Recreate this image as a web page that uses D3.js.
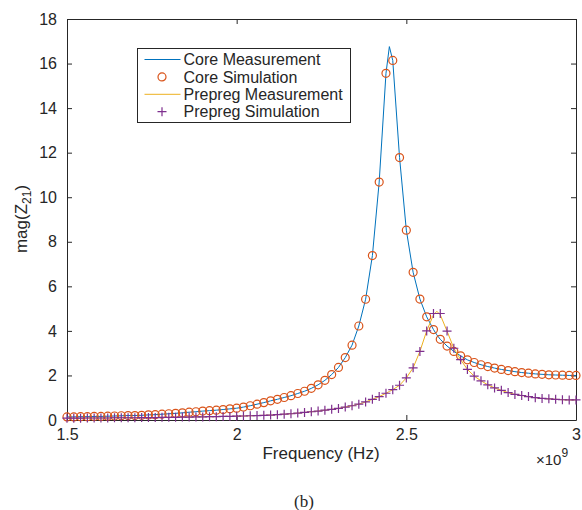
<!DOCTYPE html>
<html>
<head>
<meta charset="utf-8">
<script src="https://cdn.jsdelivr.net/npm/d3@7"></script>
<style>
  body { margin: 0; background: #fff; }
  text { font-family: "Liberation Sans", Arial, sans-serif; fill: #262626; }
</style>
</head>
<body>
<svg id="chart"></svg>
<script>
// simulation grid (GHz)
const freq = [1.50, 1.52, 1.54, 1.56, 1.58, 1.60, 1.62, 1.64, 1.66, 1.68,
  1.70, 1.72, 1.74, 1.76, 1.78, 1.80, 1.82, 1.84, 1.86, 1.88,
  1.90, 1.92, 1.94, 1.96, 1.98, 2.00, 2.02, 2.04, 2.06, 2.08,
  2.10, 2.12, 2.14, 2.16, 2.18, 2.20, 2.22, 2.24, 2.26, 2.28,
  2.30, 2.32, 2.34, 2.36, 2.38, 2.40, 2.42, 2.44, 2.46, 2.48,
  2.50, 2.52, 2.54, 2.56, 2.58, 2.60, 2.62, 2.64, 2.66, 2.68,
  2.70, 2.72, 2.74, 2.76, 2.78, 2.80, 2.82, 2.84, 2.86, 2.88,
  2.90, 2.92, 2.94, 2.96, 2.98, 3.00];

const coreSim = [0.14, 0.14, 0.15, 0.15, 0.16, 0.16, 0.17, 0.18, 0.19, 0.20,
  0.20, 0.21, 0.23, 0.24, 0.26, 0.28, 0.30, 0.32, 0.35, 0.37,
  0.40, 0.42, 0.44, 0.47, 0.50, 0.53, 0.58, 0.64, 0.71, 0.78,
  0.86, 0.93, 1.01, 1.09, 1.19, 1.29, 1.42, 1.58, 1.78, 2.04,
  2.36, 2.80, 3.36, 4.22, 5.42, 7.38, 10.68, 15.56, 16.14, 11.78,
  8.52, 6.63, 5.43, 4.63, 4.06, 3.62, 3.32, 3.08, 2.88, 2.70,
  2.58, 2.48, 2.40, 2.33, 2.27, 2.22, 2.17, 2.13, 2.10, 2.07,
  2.05, 2.03, 2.02, 2.01, 2.00, 2.00];

const prepregSim = [0.08, 0.08, 0.08, 0.09, 0.09, 0.09, 0.09, 0.10, 0.10, 0.10,
  0.10, 0.11, 0.11, 0.11, 0.12, 0.12, 0.12, 0.13, 0.13, 0.14,
  0.14, 0.15, 0.15, 0.16, 0.16, 0.17, 0.18, 0.19, 0.20, 0.21,
  0.22, 0.24, 0.26, 0.28, 0.31, 0.34, 0.37, 0.40, 0.44, 0.48,
  0.52, 0.58, 0.64, 0.71, 0.81, 0.93, 1.05, 1.20, 1.36, 1.56,
  1.89, 2.34, 3.08, 4.00, 4.78, 4.78, 3.99, 3.22, 2.71, 2.27,
  1.97, 1.76, 1.58, 1.44, 1.33, 1.23, 1.15, 1.10, 1.05, 1.00,
  0.97, 0.95, 0.93, 0.91, 0.90, 0.90];

// measurement grid: simulation grid plus the two resonance peaks
const measFreq = [1.50, 1.52, 1.54, 1.56, 1.58, 1.60, 1.62, 1.64, 1.66, 1.68,
  1.70, 1.72, 1.74, 1.76, 1.78, 1.80, 1.82, 1.84, 1.86, 1.88,
  1.90, 1.92, 1.94, 1.96, 1.98, 2.00, 2.02, 2.04, 2.06, 2.08,
  2.10, 2.12, 2.14, 2.16, 2.18, 2.20, 2.22, 2.24, 2.26, 2.28,
  2.30, 2.32, 2.34, 2.36, 2.38, 2.40, 2.42, 2.44, 2.45, 2.46, 2.48,
  2.50, 2.52, 2.54, 2.56, 2.58, 2.59, 2.60, 2.62, 2.64, 2.66, 2.68,
  2.70, 2.72, 2.74, 2.76, 2.78, 2.80, 2.82, 2.84, 2.86, 2.88,
  2.90, 2.92, 2.94, 2.96, 2.98, 3.00];

const coreMeas = [0.14, 0.14, 0.15, 0.15, 0.16, 0.16, 0.17, 0.18, 0.19, 0.20,
  0.20, 0.21, 0.23, 0.24, 0.26, 0.28, 0.30, 0.32, 0.35, 0.37,
  0.40, 0.42, 0.44, 0.47, 0.50, 0.53, 0.58, 0.64, 0.71, 0.78,
  0.86, 0.93, 1.01, 1.09, 1.19, 1.29, 1.42, 1.58, 1.78, 2.04,
  2.36, 2.80, 3.36, 4.22, 5.42, 7.38, 10.68, 15.56, 16.76, 16.14, 11.78,
  8.52, 6.63, 5.43, 4.63, 4.06, 3.82, 3.62, 3.32, 3.08, 2.88, 2.70,
  2.58, 2.48, 2.40, 2.33, 2.27, 2.22, 2.17, 2.13, 2.10, 2.07,
  2.05, 2.03, 2.02, 2.01, 2.00, 2.00];

const prepregMeas = [0.08, 0.08, 0.08, 0.09, 0.09, 0.09, 0.09, 0.10, 0.10, 0.10,
  0.10, 0.11, 0.11, 0.11, 0.12, 0.12, 0.12, 0.13, 0.13, 0.14,
  0.14, 0.15, 0.15, 0.16, 0.16, 0.17, 0.18, 0.19, 0.20, 0.21,
  0.22, 0.24, 0.26, 0.28, 0.31, 0.34, 0.37, 0.40, 0.44, 0.48,
  0.52, 0.58, 0.64, 0.71, 0.81, 0.93, 1.05, 1.20, 1.28, 1.36, 1.56,
  1.89, 2.34, 3.08, 4.00, 4.72, 4.88, 4.72, 3.99, 3.22, 2.71, 2.27,
  1.97, 1.76, 1.58, 1.44, 1.33, 1.23, 1.15, 1.10, 1.05, 1.00,
  0.97, 0.95, 0.93, 0.91, 0.90, 0.90];

const xTicks = [1.5, 2, 2.5, 3];
const yTicks = [0, 2, 4, 6, 8, 10, 12, 14, 16, 18];
const legendLabels = ["Core Measurement", "Core Simulation", "Prepreg Measurement", "Prepreg Simulation"];

const colors = { blue: "#0072BD", orange: "#D95319", yellow: "#EDB120", purple: "#7E2F8E" };
const axisColor = "#262626";

const margin = { top: 19, right: 6, bottom: 90, left: 67 };
const W = 582, H = 510;
const width = W - margin.left - margin.right;   // 509
const height = H - margin.top - margin.bottom;  // 401

const svg = d3.select("#chart").attr("width", W).attr("height", H);
const g = svg.append("g").attr("transform", `translate(${margin.left},${margin.top})`);

const x = d3.scaleLinear().domain([1.5, 3]).range([0, width]);
const y = d3.scaleLinear().domain([0, 18]).range([height, 0]);

// axes: ticks point inward, box on all sides
const fmt = (d) => d3.format("")(d);
g.append("g").attr("transform", `translate(0,${height})`)
  .call(d3.axisBottom(x).tickValues(xTicks).tickFormat(fmt).tickSizeInner(-5).tickSizeOuter(0).tickPadding(9));
g.append("g").call(d3.axisTop(x).tickValues(xTicks).tickFormat("").tickSizeInner(-5).tickSizeOuter(0));
g.append("g")
  .call(d3.axisLeft(y).tickValues(yTicks).tickSizeInner(-5).tickSizeOuter(0).tickPadding(10));
g.append("g").attr("transform", `translate(${width},0)`)
  .call(d3.axisRight(y).tickValues(yTicks).tickFormat("").tickSizeInner(-5).tickSizeOuter(0));

g.selectAll(".domain").attr("stroke", axisColor).attr("stroke-width", 1);
g.selectAll(".tick line").attr("stroke", axisColor);
g.selectAll(".tick text").style("font-size", "16px").attr("fill", axisColor);

const clip = g.append("g");

const line = d3.line().x((d) => x(d[0])).y((d) => y(d[1]));
const coreMeasPts = measFreq.map((f, i) => [f, coreMeas[i]]);
const prepregMeasPts = measFreq.map((f, i) => [f, prepregMeas[i]]);
const coreSimPts = freq.map((f, i) => [f, coreSim[i]]);
const prepregSimPts = freq.map((f, i) => [f, prepregSim[i]]);

clip.append("path").datum(coreMeasPts).attr("d", line)
  .attr("fill", "none").attr("stroke", colors.blue).attr("stroke-width", 1);

clip.selectAll(".csim").data(coreSimPts).join("circle").attr("class", "csim")
  .attr("cx", (d) => x(d[0])).attr("cy", (d) => y(d[1])).attr("r", 4)
  .attr("fill", "none").attr("stroke", colors.orange).attr("stroke-width", 1.2);

clip.append("path").datum(prepregMeasPts).attr("d", line)
  .attr("fill", "none").attr("stroke", colors.yellow).attr("stroke-width", 1);

const plus = "M-4.5,0H4.5M0,-4.5V4.5";
clip.selectAll(".psim").data(prepregSimPts).join("path").attr("class", "psim")
  .attr("transform", (d) => `translate(${x(d[0])},${y(d[1])})`)
  .attr("d", plus).attr("stroke", colors.purple).attr("stroke-width", 1.2).attr("fill", "none");

// labels
svg.append("text").attr("x", 321).attr("y", 459).attr("text-anchor", "middle")
  .style("font-size", "17px").text("Frequency (Hz)");

const yl = svg.append("text").attr("transform", "translate(27,219) rotate(-90)")
  .attr("text-anchor", "middle").style("font-size", "17px");
yl.append("tspan").text("mag(Z");
yl.append("tspan").attr("dy", 4).style("font-size", "12px").text("21");
yl.append("tspan").attr("dy", -4).text(")");

const exp = svg.append("text").attr("x", 536).attr("y", 465).style("font-size", "15px");
exp.append("tspan").text("\u00d710");
exp.append("tspan").attr("dy", -8).style("font-size", "12px").text("9");

svg.append("text").attr("x", 304).attr("y", 507).attr("text-anchor", "middle")
  .style("font-family", "'Liberation Serif', 'Times New Roman', serif").style("font-size", "17px").text("(b)");

// legend
const legend = svg.append("g").attr("transform", "translate(137.5,48.5)");
legend.append("rect").attr("width", 213).attr("height", 74)
  .attr("fill", "#fff").attr("stroke", axisColor).attr("stroke-width", 1);
const rows = legend.selectAll(".row").data(legendLabels).join("g")
  .attr("transform", (d, i) => `translate(0,${11 + i * 17.4})`);
rows.append("text").attr("x", 46).attr("dy", "0.35em").style("font-size", "16px").text((d) => d);
rows.filter((d, i) => i === 0).append("line").attr("x1", 7).attr("x2", 43)
  .attr("stroke", colors.blue).attr("stroke-width", 1);
rows.filter((d, i) => i === 2).append("line").attr("x1", 7).attr("x2", 43)
  .attr("stroke", colors.yellow).attr("stroke-width", 1);
rows.filter((d, i) => i === 1).append("circle").attr("cx", 24.5).attr("r", 4)
  .attr("fill", "none").attr("stroke", colors.orange).attr("stroke-width", 1.2);
rows.filter((d, i) => i === 3).append("path").attr("transform", "translate(24.5,0)")
  .attr("d", plus).attr("stroke", colors.purple).attr("stroke-width", 1.2);
</script>
</body>
</html>
